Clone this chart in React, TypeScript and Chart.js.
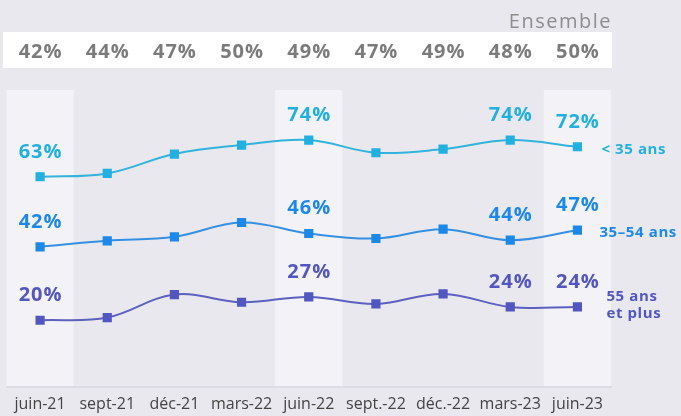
import React, { useEffect, useRef } from "react";
import { Chart, registerables } from "chart.js";

Chart.register(...registerables);

const categories = ["juin-21", "sept-21", "déc-21", "mars-22", "juin-22", "sept.-22", "déc.-22", "mars-23", "juin-23"];
const ensemble = [42, 44, 47, 50, 49, 47, 49, 48, 50];
const under35 = [63, 64, 69.8, 72.5, 74, 70.2, 71.3, 74, 72];
const age35to54 = [42, 43.8, 45, 49.3, 46, 44.5, 47.3, 44, 47];
const over55 = [20, 20.8, 27.7, 25.4, 27, 24.9, 27.9, 24, 24];
const labeledIdx = [0, 4, 7, 8];
const highlightIdx = [0, 4, 8];
const seriesNames = [["< 35 ans"], ["35–54 ans"], ["55 ans", "et plus"]];

const FONT = "'Open Sans', 'DejaVu Sans', sans-serif";
const BG = "#e9e8ee";
const HL = "#f3f3f7";
const GRAY = "#7b7b7b";
const C1 = "#22b0e0";
const C2 = "#1b88ea";
const C3 = "#5156c0";
const L1 = "#31b3dc";
const L2 = "#3590e2";
const L3 = "#5c60bf";

const decorPlugin = {
  id: "decor",
  beforeDraw(chart: any) {
    const { ctx, chartArea, scales } = chart;
    const x = scales.x;
    ctx.save();
    ctx.fillStyle = BG;
    ctx.fillRect(0, 0, chart.width, chart.height);
    const step = (chartArea.right - chartArea.left) / categories.length;
    ctx.fillStyle = HL;
    highlightIdx.forEach((i) => {
      const cx = x.getPixelForValue(i);
      ctx.fillRect(cx - step / 2, chartArea.top, step, chartArea.bottom - chartArea.top);
    });
    // Ensemble band
    ctx.fillStyle = "#ffffff";
    ctx.fillRect(3, 32, chartArea.right + 1 - 3, 36);
    ctx.fillStyle = "#8d8d8d";
    ctx.font = `400 20px ${FONT}`;
    (ctx as any).letterSpacing = "1.5px";
    ctx.textAlign = "right";
    ctx.textBaseline = "alphabetic";
    ctx.fillText("Ensemble", chartArea.right + 1, 28);
    ctx.fillStyle = GRAY;
    ctx.font = `700 20px ${FONT}`;
    (ctx as any).letterSpacing = "1px";
    ctx.textAlign = "center";
    ensemble.forEach((v, i) => {
      ctx.fillText(v + "%", x.getPixelForValue(i) + 0.5, 58);
    });
    ctx.restore();
  },
  afterDatasetsDraw(chart: any) {
    const { ctx } = chart;
    ctx.save();
    ctx.textBaseline = "alphabetic";
    chart.data.datasets.forEach((ds: any, di: number) => {
      const meta = chart.getDatasetMeta(di);
      ctx.fillStyle = ds.labelColor;
      ctx.font = `700 20px ${FONT}`;
      (ctx as any).letterSpacing = "1px";
      ctx.textAlign = "center";
      labeledIdx.forEach((i) => {
        const pt = meta.data[i];
        ctx.fillText(Math.round(ds.data[i]) + "%", pt.x + 0.5, pt.y - 19);
      });
      // series name on right
      const last = meta.data[meta.data.length - 1];
      ctx.font = `700 15px ${FONT}`;
      (ctx as any).letterSpacing = "0.6px";
      ctx.textAlign = "left";
      const names = seriesNames[di];
      const xOff = names.length > 1 ? 29 : di === 1 ? 22 : 24;
      if (names.length === 1) {
        ctx.fillText(names[0], last.x + xOff, last.y + 7);
      } else {
        ctx.fillText(names[0], last.x + xOff, last.y - 5.5);
        ctx.fillText(names[1], last.x + xOff, last.y + 11.5);
      }
    });
    ctx.restore();
  },
};

function makeDs(label: string, data: number[], line: string, point: string) {
  return {
    label,
    data,
    borderColor: line,
    backgroundColor: point,
    pointBackgroundColor: point,
    pointBorderColor: point,
    pointBorderWidth: 0,
    pointStyle: "rect",
    pointRadius: 6.5,
    borderWidth: 2,
    tension: 0.38,
    labelColor: point,
  };
}

export default function App() {
  const ref = useRef<HTMLCanvasElement>(null);
  useEffect(() => {
    document.body.style.margin = "0";
    const chart = new Chart(ref.current!, {
      type: "line",
      data: {
        labels: categories,
        datasets: [
          makeDs("< 35 ans", under35, L1, C1) as any,
          makeDs("35–54 ans", age35to54, L2, C2) as any,
          makeDs("55 ans et plus", over55, L3, C3) as any,
        ],
      },
      options: {
        responsive: false,
        animation: false,
        devicePixelRatio: 1,
        layout: { padding: { left: 5, right: 70, top: 90, bottom: 0 } },
        plugins: { legend: { display: false }, tooltip: { enabled: false } },
        scales: {
          x: {
            offset: true,
            grid: { display: false, drawTicks: false },
            border: { display: true, color: "#dcdbe6", width: 2 },
            ticks: {
              autoSkip: false,
              maxRotation: 0,
              padding: 8,
              color: "#444",
              font: { family: FONT, size: 16, weight: "400" },
            },
            afterFit: (scale: any) => {
              scale.height = 29;
            },
          },
          y: { display: false, min: 0, max: 89 },
        },
      },
      plugins: [decorPlugin],
    });
    return () => chart.destroy();
  }, []);
  return (
    <div style={{ position: "absolute", left: 0, top: 0, width: 681, height: 416, background: BG }}>
      <canvas ref={ref} width={681} height={416} style={{ display: "block" }} />
    </div>
  );
}
